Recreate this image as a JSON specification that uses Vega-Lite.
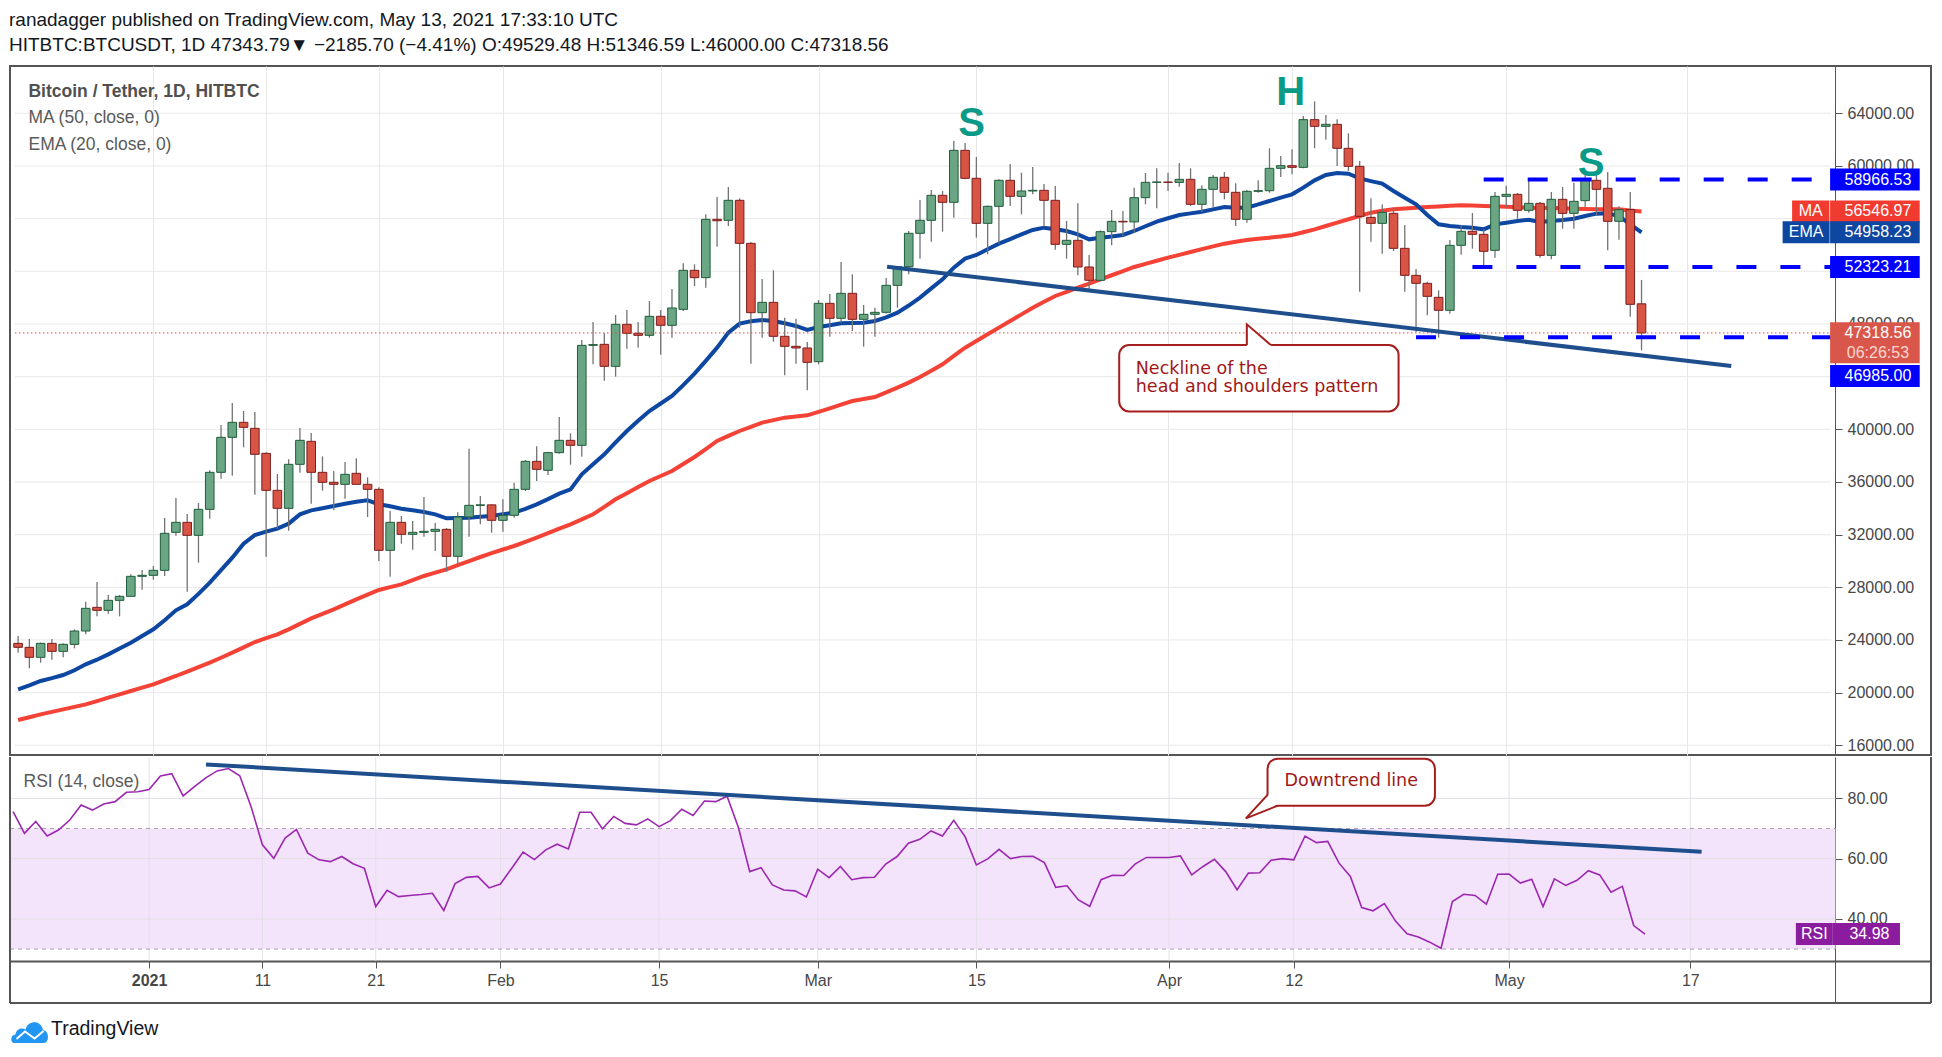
{
  "$schema": "https://vega.github.io/schema/vega-lite/v6.json",
  "background": "#ffffff",
  "padding": {"left": 9, "right": 10, "top": 10, "bottom": 6},
  "spacing": 0,
  "title": {
    "text": "ranadagger published on TradingView.com, May 13, 2021 17:33:10 UTC",
    "subtitle": "HITBTC:BTCUSDT, 1D  47343.79▼ −2185.70 (−4.41%)  O:49529.48 H:51346.59 L:46000.00 C:47318.56",
    "anchor": "start", "offset": 10,
    "font": "Liberation Sans", "fontSize": 19, "fontWeight": "normal", "color": "#131722",
    "subtitleFont": "Liberation Sans", "subtitleFontSize": 19, "subtitleColor": "#131722", "subtitlePadding": 6.5
  },
  "config": {"view": {"stroke": "#555555", "strokeWidth": 2}, "font": "Liberation Sans"},
  "datasets": {
    "ohlc": [
      {"t":"2020-12-20","o":23743,"h":24300,"l":23035,"c":23440,"ma":17921,"ema":20250,"rsi":75.6},
      {"t":"2020-12-21","o":23440,"h":24073,"l":21845,"c":22680,"ma":18130,"ema":20550,"rsi":68.4},
      {"t":"2020-12-22","o":22680,"h":23800,"l":22275,"c":23743,"ma":18351,"ema":20883,"rsi":72.3},
      {"t":"2020-12-23","o":23743,"h":24073,"l":22503,"c":23136,"ma":18540,"ema":21100,"rsi":67.5},
      {"t":"2020-12-24","o":23136,"h":23743,"l":22680,"c":23668,"ma":18731,"ema":21339,"rsi":69.5},
      {"t":"2020-12-25","o":23668,"h":24807,"l":23364,"c":24680,"ma":18920,"ema":21700,"rsi":72.8},
      {"t":"2020-12-26","o":24680,"h":26908,"l":24427,"c":26402,"ma":19110,"ema":22148,"rsi":77.8},
      {"t":"2020-12-27","o":26478,"h":28402,"l":25794,"c":26250,"ma":19360,"ema":22500,"rsi":76.1},
      {"t":"2020-12-28","o":26250,"h":27415,"l":25997,"c":27009,"ma":19617,"ema":22908,"rsi":78.1},
      {"t":"2020-12-29","o":27009,"h":27415,"l":25794,"c":27313,"ma":19870,"ema":23350,"rsi":78.9},
      {"t":"2020-12-30","o":27313,"h":28984,"l":27300,"c":28832,"ma":20123,"ema":23794,"rsi":82.0},
      {"t":"2020-12-31","o":28832,"h":29313,"l":27820,"c":28908,"ma":20380,"ema":24300,"rsi":82.2},
      {"t":"2021-01-01","o":28908,"h":29617,"l":28579,"c":29288,"ma":20630,"ema":24807,"rsi":82.9},
      {"t":"2021-01-02","o":29288,"h":33263,"l":28858,"c":32098,"ma":20950,"ema":25500,"rsi":87.4},
      {"t":"2021-01-03","o":32174,"h":34782,"l":31921,"c":32934,"ma":21263,"ema":26250,"rsi":88.2},
      {"t":"2021-01-04","o":32934,"h":33567,"l":27668,"c":31946,"ma":21600,"ema":26706,"rsi":80.8},
      {"t":"2021-01-05","o":31946,"h":34402,"l":29870,"c":33921,"ma":21940,"ema":27500,"rsi":83.9},
      {"t":"2021-01-06","o":33921,"h":36883,"l":33212,"c":36731,"ma":22275,"ema":28351,"rsi":86.8},
      {"t":"2021-01-07","o":36731,"h":40326,"l":36250,"c":39389,"ma":22650,"ema":29300,"rsi":89.1},
      {"t":"2021-01-08","o":39389,"h":41997,"l":36478,"c":40529,"ma":23035,"ema":30250,"rsi":89.9},
      {"t":"2021-01-09","o":40529,"h":41389,"l":38630,"c":40149,"ma":23440,"ema":31313,"rsi":87.5},
      {"t":"2021-01-10","o":40073,"h":41313,"l":35035,"c":38098,"ma":23845,"ema":31971,"rsi":77.2},
      {"t":"2021-01-11","o":38174,"h":38250,"l":30326,"c":35364,"ma":24140,"ema":32225,"rsi":64.6},
      {"t":"2021-01-12","o":35364,"h":36605,"l":32453,"c":33997,"ma":24427,"ema":32453,"rsi":60.1},
      {"t":"2021-01-13","o":33997,"h":37718,"l":32301,"c":37339,"ma":24807,"ema":32833,"rsi":66.8},
      {"t":"2021-01-14","o":37339,"h":40098,"l":36706,"c":39162,"ma":25220,"ema":33541,"rsi":69.7},
      {"t":"2021-01-15","o":39086,"h":39719,"l":34351,"c":36731,"ma":25642,"ema":33845,"rsi":61.8},
      {"t":"2021-01-16","o":36731,"h":37946,"l":35339,"c":35972,"ma":25980,"ema":34000,"rsi":59.6},
      {"t":"2021-01-17","o":35972,"h":36833,"l":33845,"c":35820,"ma":26326,"ema":34174,"rsi":59.0},
      {"t":"2021-01-18","o":35820,"h":37516,"l":34731,"c":36579,"ma":26700,"ema":34350,"rsi":60.7},
      {"t":"2021-01-19","o":36655,"h":37794,"l":35800,"c":35820,"ma":27085,"ema":34503,"rsi":58.3},
      {"t":"2021-01-20","o":35820,"h":36351,"l":33339,"c":35440,"ma":27440,"ema":34605,"rsi":56.8},
      {"t":"2021-01-21","o":35440,"h":35592,"l":29997,"c":30807,"ma":27794,"ema":34301,"rsi":44.1},
      {"t":"2021-01-22","o":30807,"h":33795,"l":28807,"c":32934,"ma":28010,"ema":34150,"rsi":49.5},
      {"t":"2021-01-23","o":32934,"h":33415,"l":31313,"c":32022,"ma":28225,"ema":33971,"rsi":47.4},
      {"t":"2021-01-24","o":32022,"h":33035,"l":30858,"c":32174,"ma":28540,"ema":33850,"rsi":47.8},
      {"t":"2021-01-25","o":32174,"h":34858,"l":31845,"c":32250,"ma":28858,"ema":33718,"rsi":48.1},
      {"t":"2021-01-26","o":32250,"h":32883,"l":30756,"c":32402,"ma":29110,"ema":33541,"rsi":48.5},
      {"t":"2021-01-27","o":32402,"h":32503,"l":29187,"c":30351,"ma":29364,"ema":33237,"rsi":42.8},
      {"t":"2021-01-28","o":30351,"h":33693,"l":29744,"c":33339,"ma":29680,"ema":33260,"rsi":51.7},
      {"t":"2021-01-29","o":33339,"h":38529,"l":31846,"c":34225,"ma":29997,"ema":33288,"rsi":53.8},
      {"t":"2021-01-30","o":34225,"h":34934,"l":32782,"c":34260,"ma":30301,"ema":33350,"rsi":54.1},
      {"t":"2021-01-31","o":34260,"h":34300,"l":32149,"c":33086,"ma":30600,"ema":33415,"rsi":50.3},
      {"t":"2021-02-01","o":33086,"h":34681,"l":32225,"c":33466,"ma":30870,"ema":33540,"rsi":51.6},
      {"t":"2021-02-02","o":33466,"h":35947,"l":33289,"c":35440,"ma":31137,"ema":33669,"rsi":56.8},
      {"t":"2021-02-03","o":35440,"h":37668,"l":35314,"c":37567,"ma":31450,"ema":33950,"rsi":62.2},
      {"t":"2021-02-04","o":37567,"h":38706,"l":36073,"c":36959,"ma":31770,"ema":34301,"rsi":59.7},
      {"t":"2021-02-05","o":36883,"h":38300,"l":36529,"c":38225,"ma":32110,"ema":34700,"rsi":62.9},
      {"t":"2021-02-06","o":38225,"h":40934,"l":38150,"c":39162,"ma":32450,"ema":35112,"rsi":64.8},
      {"t":"2021-02-07","o":39162,"h":39694,"l":37314,"c":38782,"ma":32782,"ema":35440,"rsi":63.2},
      {"t":"2021-02-08","o":38782,"h":46782,"l":37921,"c":46377,"ma":33160,"ema":36580,"rsi":75.4},
      {"t":"2021-02-09","o":46377,"h":48149,"l":44934,"c":46430,"ma":33542,"ema":37350,"rsi":75.4},
      {"t":"2021-02-10","o":46453,"h":47289,"l":43694,"c":44782,"ma":34110,"ema":38099,"rsi":69.9},
      {"t":"2021-02-11","o":44782,"h":48681,"l":43998,"c":47972,"ma":34681,"ema":39000,"rsi":74.0},
      {"t":"2021-02-12","o":47972,"h":49061,"l":46124,"c":47289,"ma":35150,"ema":39871,"rsi":71.7},
      {"t":"2021-02-13","o":47289,"h":48149,"l":46200,"c":47137,"ma":35610,"ema":40650,"rsi":71.2},
      {"t":"2021-02-14","o":47137,"h":49744,"l":46960,"c":48580,"ma":36073,"ema":41390,"rsi":73.2},
      {"t":"2021-02-15","o":48580,"h":49061,"l":45668,"c":47896,"ma":36450,"ema":41960,"rsi":70.6},
      {"t":"2021-02-16","o":47896,"h":50656,"l":46960,"c":49213,"ma":36833,"ema":42529,"rsi":72.6},
      {"t":"2021-02-17","o":49112,"h":52605,"l":48985,"c":52074,"ma":37360,"ema":43350,"rsi":76.4},
      {"t":"2021-02-18","o":52074,"h":52529,"l":50884,"c":51517,"ma":37896,"ema":44225,"rsi":74.3},
      {"t":"2021-02-19","o":51517,"h":56326,"l":50757,"c":55947,"ma":38500,"ema":45200,"rsi":79.1},
      {"t":"2021-02-20","o":55947,"h":57643,"l":53871,"c":55840,"ma":39112,"ema":46200,"rsi":78.9},
      {"t":"2021-02-21","o":55871,"h":58403,"l":55441,"c":57390,"ma":39500,"ema":47339,"rsi":80.7},
      {"t":"2021-02-22","o":57390,"h":57542,"l":47719,"c":54124,"ma":39871,"ema":48023,"rsi":70.3},
      {"t":"2021-02-23","o":54124,"h":54225,"l":44985,"c":48858,"ma":40190,"ema":48200,"rsi":55.7},
      {"t":"2021-02-24","o":48858,"h":51415,"l":46960,"c":49643,"ma":40504,"ema":48301,"rsi":57.0},
      {"t":"2021-02-25","o":49643,"h":52074,"l":46656,"c":47061,"ma":40700,"ema":48225,"rsi":51.3},
      {"t":"2021-02-26","o":47061,"h":48479,"l":44099,"c":46301,"ma":40884,"ema":48050,"rsi":49.6},
      {"t":"2021-02-27","o":46301,"h":48403,"l":44985,"c":46175,"ma":40970,"ema":47846,"rsi":49.3},
      {"t":"2021-02-28","o":46175,"h":46631,"l":42959,"c":45086,"ma":41061,"ema":47542,"rsi":47.3},
      {"t":"2021-03-01","o":45137,"h":49821,"l":44934,"c":49567,"ma":41320,"ema":47770,"rsi":56.5},
      {"t":"2021-03-02","o":49567,"h":50276,"l":47036,"c":48428,"ma":41593,"ema":47900,"rsi":53.7},
      {"t":"2021-03-03","o":48428,"h":52706,"l":48099,"c":50327,"ma":41870,"ema":48049,"rsi":57.4},
      {"t":"2021-03-04","o":50327,"h":51770,"l":47466,"c":48352,"ma":42150,"ema":48080,"rsi":53.0},
      {"t":"2021-03-05","o":48352,"h":49441,"l":46276,"c":48732,"ma":42300,"ema":48099,"rsi":53.7},
      {"t":"2021-03-06","o":48732,"h":49239,"l":47036,"c":48884,"ma":42453,"ema":48225,"rsi":53.8},
      {"t":"2021-03-07","o":48884,"h":51491,"l":48800,"c":50934,"ma":42800,"ema":48500,"rsi":58.2},
      {"t":"2021-03-08","o":50934,"h":52400,"l":49238,"c":52352,"ma":43162,"ema":48858,"rsi":60.7},
      {"t":"2021-03-09","o":52352,"h":55061,"l":51770,"c":54884,"ma":43542,"ema":49400,"rsi":65.1},
      {"t":"2021-03-10","o":54884,"h":57415,"l":52960,"c":55871,"ma":43972,"ema":49998,"rsi":66.4},
      {"t":"2021-03-11","o":55871,"h":58175,"l":54251,"c":57770,"ma":44450,"ema":50700,"rsi":69.2},
      {"t":"2021-03-12","o":57770,"h":58099,"l":55010,"c":57238,"ma":44934,"ema":51390,"rsi":67.5},
      {"t":"2021-03-13","o":57238,"h":61896,"l":56073,"c":61188,"ma":45570,"ema":52276,"rsi":72.7},
      {"t":"2021-03-14","o":61188,"h":61745,"l":58985,"c":59061,"ma":46200,"ema":52960,"rsi":67.3},
      {"t":"2021-03-15","o":59061,"h":60681,"l":54554,"c":55643,"ma":46700,"ema":53238,"rsi":57.9},
      {"t":"2021-03-16","o":55643,"h":57000,"l":53289,"c":56934,"ma":47213,"ema":53669,"rsi":59.9},
      {"t":"2021-03-17","o":56934,"h":58985,"l":54099,"c":58909,"ma":47720,"ema":54099,"rsi":63.1},
      {"t":"2021-03-18","o":58909,"h":60150,"l":56960,"c":57694,"ma":48225,"ema":54450,"rsi":60.0},
      {"t":"2021-03-19","o":57694,"h":59491,"l":56327,"c":58099,"ma":48730,"ema":54808,"rsi":60.7},
      {"t":"2021-03-20","o":58099,"h":59922,"l":57846,"c":58150,"ma":49238,"ema":55137,"rsi":60.8},
      {"t":"2021-03-21","o":58150,"h":58631,"l":55365,"c":57390,"ma":49680,"ema":55314,"rsi":58.7},
      {"t":"2021-03-22","o":57390,"h":58479,"l":53643,"c":54048,"ma":50124,"ema":55188,"rsi":50.5},
      {"t":"2021-03-23","o":54048,"h":55820,"l":52960,"c":54352,"ma":50440,"ema":55061,"rsi":51.0},
      {"t":"2021-03-24","o":54352,"h":57162,"l":51694,"c":52327,"ma":50757,"ema":54808,"rsi":46.3},
      {"t":"2021-03-25","o":52327,"h":53238,"l":50504,"c":51314,"ma":51070,"ema":54428,"rsi":44.2},
      {"t":"2021-03-26","o":51314,"h":55100,"l":51250,"c":55010,"ma":51390,"ema":54554,"rsi":53.0},
      {"t":"2021-03-27","o":55010,"h":56656,"l":53972,"c":55795,"ma":51700,"ema":54650,"rsi":54.5},
      {"t":"2021-03-28","o":55795,"h":56580,"l":54681,"c":55750,"ma":52010,"ema":54757,"rsi":54.4},
      {"t":"2021-03-29","o":55750,"h":58352,"l":54935,"c":57592,"ma":52327,"ema":55061,"rsi":58.2},
      {"t":"2021-03-30","o":57592,"h":59466,"l":57086,"c":58757,"ma":52560,"ema":55420,"rsi":60.4},
      {"t":"2021-03-31","o":58757,"h":59821,"l":56782,"c":58780,"ma":52800,"ema":55770,"rsi":60.4},
      {"t":"2021-04-01","o":58780,"h":59491,"l":58099,"c":58750,"ma":53035,"ema":56030,"rsi":60.4},
      {"t":"2021-04-02","o":58750,"h":60226,"l":58428,"c":58985,"ma":53250,"ema":56276,"rsi":60.9},
      {"t":"2021-04-03","o":58985,"h":59821,"l":56960,"c":57086,"ma":53466,"ema":56400,"rsi":54.6},
      {"t":"2021-04-04","o":57086,"h":58529,"l":56504,"c":58226,"ma":53680,"ema":56529,"rsi":57.4},
      {"t":"2021-04-05","o":58226,"h":59314,"l":56782,"c":59137,"ma":53890,"ema":56700,"rsi":59.8},
      {"t":"2021-04-06","o":59137,"h":59542,"l":57466,"c":57998,"ma":54099,"ema":56884,"rsi":55.7},
      {"t":"2021-04-07","o":57998,"h":58681,"l":55441,"c":55947,"ma":54240,"ema":56833,"rsi":49.7},
      {"t":"2021-04-08","o":55947,"h":58175,"l":55694,"c":58074,"ma":54377,"ema":56833,"rsi":55.2},
      {"t":"2021-04-09","o":58074,"h":58909,"l":57972,"c":58120,"ma":54470,"ema":57086,"rsi":55.3},
      {"t":"2021-04-10","o":58120,"h":61339,"l":57972,"c":59821,"ma":54554,"ema":57340,"rsi":59.5},
      {"t":"2021-04-11","o":59821,"h":60757,"l":59162,"c":60023,"ma":54650,"ema":57590,"rsi":60.0},
      {"t":"2021-04-12","o":60023,"h":61264,"l":59365,"c":59896,"ma":54757,"ema":57846,"rsi":59.6},
      {"t":"2021-04-13","o":59896,"h":63795,"l":59821,"c":63517,"ma":54970,"ema":58352,"rsi":67.5},
      {"t":"2021-04-14","o":63517,"h":64909,"l":61339,"c":63010,"ma":55188,"ema":58909,"rsi":65.3},
      {"t":"2021-04-15","o":63010,"h":63871,"l":61998,"c":63162,"ma":55440,"ema":59314,"rsi":65.7},
      {"t":"2021-04-16","o":63162,"h":63542,"l":59998,"c":61339,"ma":55694,"ema":59466,"rsi":58.5},
      {"t":"2021-04-17","o":61339,"h":62479,"l":59618,"c":59972,"ma":55950,"ema":59415,"rsi":54.1},
      {"t":"2021-04-18","o":59972,"h":60378,"l":50453,"c":56175,"ma":56200,"ema":59061,"rsi":43.8},
      {"t":"2021-04-19","o":56099,"h":57542,"l":54251,"c":55643,"ma":56450,"ema":58850,"rsi":42.7},
      {"t":"2021-04-20","o":55643,"h":57086,"l":53339,"c":56478,"ma":56600,"ema":58655,"rsi":45.1},
      {"t":"2021-04-21","o":56402,"h":56833,"l":53542,"c":53744,"ma":56706,"ema":58099,"rsi":39.2},
      {"t":"2021-04-22","o":53744,"h":55516,"l":50453,"c":51693,"ma":56770,"ema":57592,"rsi":35.1},
      {"t":"2021-04-23","o":51693,"h":52174,"l":47390,"c":51086,"ma":56830,"ema":57086,"rsi":34.0},
      {"t":"2021-04-24","o":51086,"h":51212,"l":48655,"c":50098,"ma":56883,"ema":56276,"rsi":32.3},
      {"t":"2021-04-25","o":50022,"h":50554,"l":46959,"c":49035,"ma":56930,"ema":55567,"rsi":30.3},
      {"t":"2021-04-26","o":49035,"h":54377,"l":48782,"c":53972,"ma":56970,"ema":55440,"rsi":45.8},
      {"t":"2021-04-27","o":53972,"h":55516,"l":53263,"c":55035,"ma":57010,"ema":55364,"rsi":48.2},
      {"t":"2021-04-28","o":55035,"h":56428,"l":53719,"c":54807,"ma":56990,"ema":55313,"rsi":47.8},
      {"t":"2021-04-29","o":54807,"h":55187,"l":52276,"c":53516,"ma":56960,"ema":55187,"rsi":44.9},
      {"t":"2021-04-30","o":53592,"h":58022,"l":53035,"c":57693,"ma":56934,"ema":55567,"rsi":54.8},
      {"t":"2021-05-01","o":57693,"h":58504,"l":56883,"c":57845,"ma":56900,"ema":55693,"rsi":54.9},
      {"t":"2021-05-02","o":57845,"h":57946,"l":55997,"c":56630,"ma":56866,"ema":55820,"rsi":51.9},
      {"t":"2021-05-03","o":56630,"h":59010,"l":56453,"c":57162,"ma":56833,"ema":55921,"rsi":53.2},
      {"t":"2021-05-04","o":57162,"h":57263,"l":53035,"c":53212,"ma":56815,"ema":55744,"rsi":44.1},
      {"t":"2021-05-05","o":53212,"h":58022,"l":52909,"c":57466,"ma":56800,"ema":55820,"rsi":53.3},
      {"t":"2021-05-06","o":57466,"h":58402,"l":55237,"c":56402,"ma":56782,"ema":55896,"rsi":51.1},
      {"t":"2021-05-07","o":56402,"h":58732,"l":55237,"c":57314,"ma":56755,"ema":55997,"rsi":52.8},
      {"t":"2021-05-08","o":57364,"h":59542,"l":56883,"c":58909,"ma":56730,"ema":56200,"rsi":56.0},
      {"t":"2021-05-09","o":58909,"h":59542,"l":56276,"c":58225,"ma":56706,"ema":56377,"rsi":54.6},
      {"t":"2021-05-10","o":58301,"h":59542,"l":53592,"c":55794,"ma":56706,"ema":56402,"rsi":48.9},
      {"t":"2021-05-11","o":55794,"h":56934,"l":54402,"c":56681,"ma":56706,"ema":56200,"rsi":50.8},
      {"t":"2021-05-12","o":56681,"h":58022,"l":48554,"c":49491,"ma":56620,"ema":55567,"rsi":37.8},
      {"t":"2021-05-13","o":49529.48,"h":51346.59,"l":46000,"c":47318.56,"ma":56546.97,"ema":54958.23,"rsi":34.98}
    ],
    "pgrid": [{"v":16000},{"v":20000},{"v":24000},{"v":28000},{"v":32000},{"v":36000},{"v":40000},{"v":44000},{"v":48000},{"v":52000},{"v":56000},{"v":60000},{"v":64000}],
    "rgrid": [{"v":40},{"v":60},{"v":80}],
    "rband": [{"lo":30,"hi":70}],
    "rdash": [{"v":30},{"v":70}],
    "xgrid": [{"t":"2021-01-01"},{"t":"2021-01-11"},{"t":"2021-01-21"},{"t":"2021-02-01"},{"t":"2021-02-15"},{"t":"2021-03-01"},{"t":"2021-03-15"},{"t":"2021-04-01"},{"t":"2021-04-12"},{"t":"2021-05-01"},{"t":"2021-05-17"}],
    "levels": [{"p":58966.53,"from":"2021-04-29"},{"p":52323.21,"from":"2021-04-28"},{"p":46985,"from":"2021-04-23"}],
    "last": [{"c":47318.56}],
    "neck": [{"t1":"2021-03-07T02:00:00Z","v1":52349,"t2":"2021-05-20T23:00:00Z","v2":44807}],
    "rtrend": [{"t1":"2021-01-06T00:30:00Z","v1":91.26,"t2":"2021-05-17T23:45:00Z","v2":62.25}],
    "letters": [{"t":"2021-03-14T13:55:00Z","p":63165,"txt":"S"},{"t":"2021-04-11T20:53:00Z","p":65542,"txt":"H"},{"t":"2021-05-08T12:30:00Z","p":60127,"txt":"S"}],
    "legend": [{"txt":"Bitcoin / Tether, 1D, HITBTC","p":65618,"main":true},{"txt":"MA (50, close, 0)","p":63620,"main":false},{"txt":"EMA (20, close, 0)","p":61592,"main":false}],
    "note1box": [{"t1":"2021-03-27T16:05:00Z","t2":"2021-04-21T10:48:00Z","v1":46402,"v2":41352}],
    "note1ptr": [{"t":"2021-04-07T23:45:00Z","v":46402}],
    "note1txt": [{"t":"2021-03-29T03:22:00Z","v":44602,"txt":"Neckline of the"},{"t":"2021-03-29T03:22:00Z","v":43212,"txt":"head and shoulders pattern"}],
    "note2box": [{"t1":"2021-04-09T16:34:00Z","t2":"2021-04-24T11:02:00Z","v1":93.15,"v2":77.58}],
    "note2ptr": [{"t":"2021-04-09T16:34:00Z","v":77.58}],
    "note2txt": [{"t":"2021-04-17T01:55:00Z","v":85.7,"txt":"Downtrend line"}],
    "tags": [
      {"kind":"level","label":"58966.53","at":58966.53},
      {"kind":"ma","label":"56546.97","at":56546.97},
      {"kind":"ema","label":"54958.23","at":54958.23},
      {"kind":"level","label":"52323.21","at":52323.21},
      {"kind":"price","label":"47318.56","at":47318.56,"sub":"06:26:53"},
      {"kind":"low","label":"46985.00","at":46985}
    ],
    "rsitag": [{"label":"34.98","at":34.98}],
    "rsilabel": [{"t":"2020-12-20T22:05:00Z","v":85.3,"txt":"RSI (14, close)"}],
    "brand": [{"t":"2020-12-21T11:47:00Z","v":2.67}],
    "rframe": [{"side":"left"}]
  },
  "vconcat": [
    {
      "width": 1921,
      "height": 689,
      "layer": [
        {
          "data": {"name": "pgrid"},
          "mark": {"type": "rule", "color": "#e8e8e8", "strokeWidth": 1},
          "encoding": {
            "x": {"datum": {"year":2020,"month":12,"date":19,"hours":17,"minutes":25,"utc":true}, "type": "temporal", "title": null},
            "x2": {"datum": {"year":2021,"month":5,"date":29,"hours":19,"minutes":12,"utc":true}},
            "y": {"field": "v", "type": "quantitative", "title": null}
          }
        },
        {
          "data": {"name": "ohlc"},
          "mark": {"type": "line", "color": "#f44336", "strokeWidth": 4},
          "encoding": {
            "x": {"field": "t", "type": "temporal", "title": null,
              "scale": {"type": "utc", "domain": [{"year":2020,"month":12,"date":19,"hours":17,"minutes":25,"utc":true},{"year":2021,"month":6,"date":7,"hours":5,"minutes":36,"utc":true}]},
              "axis": {"values": [{"year":2021,"month":1,"date":1,"utc":true},{"year":2021,"month":1,"date":11,"utc":true},{"year":2021,"month":1,"date":21,"utc":true},{"year":2021,"month":2,"date":1,"utc":true},{"year":2021,"month":2,"date":15,"utc":true},{"year":2021,"month":3,"date":1,"utc":true},{"year":2021,"month":3,"date":15,"utc":true},{"year":2021,"month":4,"date":1,"utc":true},{"year":2021,"month":4,"date":12,"utc":true},{"year":2021,"month":5,"date":1,"utc":true},{"year":2021,"month":5,"date":17,"utc":true}],
                "grid": true, "gridColor": "#e8e8e8", "labels": false, "ticks": false, "domain": false}},
            "y": {"field": "ma", "type": "quantitative", "title": null,
              "scale": {"domain": [15263, 67592], "nice": false, "zero": false},
              "axis": {"orient": "right", "offset": -96, "values": [16000,20000,24000,28000,32000,36000,40000,44000,48000,52000,56000,60000,64000],
                "format": ".2f", "grid": false, "tickSize": 7, "tickColor": "#555555", "domainColor": "#555555", "domainWidth": 1,
                "labelPadding": 5, "labelFontSize": 16, "labelColor": "#474747", "labelFont": "Liberation Sans"}}
          }
        },
        {
          "data": {"name": "ohlc"},
          "mark": {"type": "line", "color": "#0d47a1", "strokeWidth": 4},
          "encoding": {
            "x": {"field": "t", "type": "temporal", "title": null},
            "y": {"field": "ema", "type": "quantitative", "title": null}
          }
        },
        {
          "data": {"name": "ohlc"},
          "mark": {"type": "rule", "color": "#737373", "strokeWidth": 1.3},
          "encoding": {
            "x": {"field": "t", "type": "temporal", "title": null},
            "y": {"field": "l", "type": "quantitative", "title": null},
            "y2": {"field": "h"}
          }
        },
        {
          "data": {"name": "ohlc"},
          "mark": {"type": "bar", "width": 8.6, "strokeWidth": 1},
          "encoding": {
            "x": {"field": "t", "type": "temporal", "title": null},
            "y": {"field": "o", "type": "quantitative", "title": null},
            "y2": {"field": "c"},
            "fill": {"condition": {"test": "datum.c >= datum.o", "value": "#6ba684"}, "value": "#d85445"},
            "stroke": {"condition": {"test": "datum.c >= datum.o", "value": "#1f5d3a"}, "value": "#7c1e1e"}
          }
        },
        {
          "data": {"name": "last"},
          "mark": {"type": "rule", "color": "#e8473a", "strokeWidth": 1, "strokeDash": [1.5, 2.5]},
          "encoding": {
            "x": {"datum": {"year":2020,"month":12,"date":19,"hours":17,"minutes":25,"utc":true}, "type": "temporal", "title": null},
            "x2": {"datum": {"year":2021,"month":5,"date":29,"hours":19,"minutes":12,"utc":true}},
            "y": {"field": "c", "type": "quantitative", "title": null}
          }
        },
        {
          "data": {"name": "neck"},
          "mark": {"type": "rule", "color": "#1f4e8c", "strokeWidth": 4},
          "encoding": {
            "x": {"field": "t1", "type": "temporal", "title": null},
            "x2": {"field": "t2"},
            "y": {"field": "v1", "type": "quantitative", "title": null},
            "y2": {"field": "v2"}
          }
        },
        {
          "data": {"name": "levels"},
          "mark": {"type": "rule", "color": "#0000ff", "strokeWidth": 4, "strokeDash": [20, 24]},
          "encoding": {
            "x": {"field": "from", "type": "temporal", "title": null},
            "x2": {"datum": {"year":2021,"month":5,"date":29,"hours":19,"minutes":12,"utc":true}},
            "y": {"field": "p", "type": "quantitative", "title": null}
          }
        },
        {
          "data": {"name": "letters"},
          "mark": {"type": "text", "font": "Liberation Sans Narrow, Liberation Sans", "fontSize": 40, "fontWeight": "bold", "color": "#0a9a87", "align": "center", "baseline": "middle"},
          "encoding": {
            "x": {"field": "t", "type": "temporal", "title": null},
            "y": {"field": "p", "type": "quantitative", "title": null},
            "text": {"field": "txt"}
          }
        },
        {
          "data": {"name": "legend"},
          "transform": [{"filter": "datum.main"}],
          "mark": {"type": "text", "font": "Liberation Sans", "fontSize": 17.5, "fontWeight": "bold", "color": "#505050", "align": "left", "baseline": "middle"},
          "encoding": {
            "x": {"datum": {"year":2020,"month":12,"date":20,"hours":22,"minutes":5,"utc":true}, "type": "temporal", "title": null},
            "y": {"field": "p", "type": "quantitative", "title": null},
            "text": {"field": "txt"}
          }
        },
        {
          "data": {"name": "legend"},
          "transform": [{"filter": "!datum.main"}],
          "mark": {"type": "text", "font": "Liberation Sans", "fontSize": 17.5, "color": "#5a5a5a", "align": "left", "baseline": "middle"},
          "encoding": {
            "x": {"datum": {"year":2020,"month":12,"date":20,"hours":22,"minutes":5,"utc":true}, "type": "temporal", "title": null},
            "y": {"field": "p", "type": "quantitative", "title": null},
            "text": {"field": "txt"}
          }
        },
        {
          "data": {"name": "note1box"},
          "mark": {"type": "rect", "fill": "#ffffff", "stroke": "#a51d1d", "strokeWidth": 2, "cornerRadius": 10},
          "encoding": {
            "x": {"field": "t1", "type": "temporal", "title": null},
            "x2": {"field": "t2"},
            "y": {"field": "v1", "type": "quantitative", "title": null},
            "y2": {"field": "v2"}
          }
        },
        {
          "data": {"name": "note1ptr"},
          "mark": {"type": "point", "shape": "M0,0.15V-1.88L2.31,0.15Z", "size": 484, "filled": true, "fill": "#ffffff", "strokeWidth": 0, "opacity": 1},
          "encoding": {
            "x": {"field": "t", "type": "temporal", "title": null},
            "y": {"field": "v", "type": "quantitative", "title": null}
          }
        },
        {
          "data": {"name": "note1ptr"},
          "mark": {"type": "point", "shape": "M0,0V-1.88L2.18,0", "size": 484, "filled": false, "stroke": "#a51d1d", "strokeWidth": 2, "opacity": 1},
          "encoding": {
            "x": {"field": "t", "type": "temporal", "title": null},
            "y": {"field": "v", "type": "quantitative", "title": null}
          }
        },
        {
          "data": {"name": "note1txt"},
          "mark": {"type": "text", "font": "DejaVu Sans", "fontSize": 17.5, "color": "#a01818", "align": "left", "baseline": "middle"},
          "encoding": {
            "x": {"field": "t", "type": "temporal", "title": null},
            "y": {"field": "v", "type": "quantitative", "title": null},
            "text": {"field": "txt"}
          }
        },
        {
          "data": {"name": "tags"},
          "transform": [{"filter": "datum.kind == 'level'"}],
          "mark": {"type": "point", "shape": "M-4.073,-1H4.073V1H-4.073Z", "size": 484, "filled": true, "fill": "#0000ff", "strokeWidth": 0, "opacity": 1},
          "encoding": {
            "x": {"datum": {"year":2021,"month":6,"date":2,"hours":16,"minutes":50,"utc":true}, "type": "temporal", "title": null},
            "y": {"field": "at", "type": "quantitative", "title": null}
          }
        },
        {
          "data": {"name": "tags"},
          "transform": [{"filter": "datum.kind == 'low'"}],
          "mark": {"type": "point", "shape": "M-4.073,2.518H4.073V4.518H-4.073Z", "size": 484, "filled": true, "fill": "#0000ff", "strokeWidth": 0, "opacity": 1},
          "encoding": {
            "x": {"datum": {"year":2021,"month":6,"date":2,"hours":16,"minutes":50,"utc":true}, "type": "temporal", "title": null},
            "y": {"field": "at", "type": "quantitative", "title": null}
          }
        },
        {
          "data": {"name": "tags"},
          "transform": [{"filter": "datum.kind == 'ma'"}],
          "mark": {"type": "point", "shape": "M-4.073,-1H4.073V1H-4.073Z", "size": 484, "filled": true, "fill": "#f23b30", "strokeWidth": 0, "opacity": 1},
          "encoding": {
            "x": {"datum": {"year":2021,"month":6,"date":2,"hours":16,"minutes":50,"utc":true}, "type": "temporal", "title": null},
            "y": {"field": "at", "type": "quantitative", "title": null}
          }
        },
        {
          "data": {"name": "tags"},
          "transform": [{"filter": "datum.kind == 'ma'"}],
          "mark": {"type": "point", "shape": "M-1.695,-1H1.695V1H-1.695Z", "size": 484, "filled": true, "fill": "#f23b30", "strokeWidth": 0, "opacity": 1},
          "encoding": {
            "x": {"datum": {"year":2021,"month":5,"date":28,"hours":0,"minutes":14,"utc":true}, "type": "temporal", "title": null},
            "y": {"field": "at", "type": "quantitative", "title": null}
          }
        },
        {
          "data": {"name": "tags"},
          "transform": [{"filter": "datum.kind == 'ema'"}],
          "mark": {"type": "point", "shape": "M-4.073,-1H4.073V1H-4.073Z", "size": 484, "filled": true, "fill": "#0d47a1", "strokeWidth": 0, "opacity": 1},
          "encoding": {
            "x": {"datum": {"year":2021,"month":6,"date":2,"hours":16,"minutes":50,"utc":true}, "type": "temporal", "title": null},
            "y": {"field": "at", "type": "quantitative", "title": null}
          }
        },
        {
          "data": {"name": "tags"},
          "transform": [{"filter": "datum.kind == 'ema'"}],
          "mark": {"type": "point", "shape": "M-2.136,-1H2.136V1H-2.136Z", "size": 484, "filled": true, "fill": "#0d47a1", "strokeWidth": 0, "opacity": 1},
          "encoding": {
            "x": {"datum": {"year":2021,"month":5,"date":27,"hours":14,"minutes":24,"utc":true}, "type": "temporal", "title": null},
            "y": {"field": "at", "type": "quantitative", "title": null}
          }
        },
        {
          "data": {"name": "tags"},
          "transform": [{"filter": "datum.kind == 'price'"}],
          "mark": {"type": "point", "shape": "M-4.073,-0.964H4.073V2.764H-4.073Z", "size": 484, "filled": true, "fill": "#d9574a", "strokeWidth": 0, "opacity": 1},
          "encoding": {
            "x": {"datum": {"year":2021,"month":6,"date":2,"hours":16,"minutes":50,"utc":true}, "type": "temporal", "title": null},
            "y": {"field": "at", "type": "quantitative", "title": null}
          }
        },
        {
          "data": {"name": "tags"},
          "transform": [{"filter": "datum.kind != 'low'"}],
          "mark": {"type": "text", "font": "Liberation Sans", "fontSize": 16, "color": "#ffffff", "align": "center", "baseline": "middle", "dx": 3},
          "encoding": {
            "x": {"datum": {"year":2021,"month":6,"date":2,"hours":16,"minutes":50,"utc":true}, "type": "temporal", "title": null},
            "y": {"field": "at", "type": "quantitative", "title": null},
            "text": {"field": "label"}
          }
        },
        {
          "data": {"name": "tags"},
          "transform": [{"filter": "datum.kind == 'low'"}],
          "mark": {"type": "text", "font": "Liberation Sans", "fontSize": 16, "color": "#ffffff", "align": "center", "baseline": "middle", "dx": 3, "dy": 38.7},
          "encoding": {
            "x": {"datum": {"year":2021,"month":6,"date":2,"hours":16,"minutes":50,"utc":true}, "type": "temporal", "title": null},
            "y": {"field": "at", "type": "quantitative", "title": null},
            "text": {"field": "label"}
          }
        },
        {
          "data": {"name": "tags"},
          "transform": [{"filter": "datum.kind == 'price'"}],
          "mark": {"type": "text", "font": "Liberation Sans", "fontSize": 16, "color": "#f9d6d1", "align": "center", "baseline": "middle", "dx": 3, "dy": 19.7},
          "encoding": {
            "x": {"datum": {"year":2021,"month":6,"date":2,"hours":16,"minutes":50,"utc":true}, "type": "temporal", "title": null},
            "y": {"field": "at", "type": "quantitative", "title": null},
            "text": {"field": "sub"}
          }
        },
        {
          "data": {"name": "tags"},
          "transform": [{"filter": "datum.kind == 'ma'"}],
          "mark": {"type": "text", "font": "Liberation Sans", "fontSize": 16, "color": "#ffffff", "align": "center", "baseline": "middle", "text": "MA"},
          "encoding": {
            "x": {"datum": {"year":2021,"month":5,"date":28,"hours":0,"minutes":14,"utc":true}, "type": "temporal", "title": null},
            "y": {"field": "at", "type": "quantitative", "title": null}
          }
        },
        {
          "data": {"name": "tags"},
          "transform": [{"filter": "datum.kind == 'ema'"}],
          "mark": {"type": "text", "font": "Liberation Sans", "fontSize": 16, "color": "#ffffff", "align": "center", "baseline": "middle", "text": "EMA"},
          "encoding": {
            "x": {"datum": {"year":2021,"month":5,"date":27,"hours":14,"minutes":24,"utc":true}, "type": "temporal", "title": null},
            "y": {"field": "at", "type": "quantitative", "title": null}
          }
        }
      ]
    },
    {
      "width": 1921,
      "height": 246,
      "view": {"stroke": null},
      "title": {"text": "TradingView", "orient": "bottom", "anchor": "start", "frame": "group", "offset": -23, "dx": 41,
        "font": "Liberation Sans", "fontSize": 19.5, "fontWeight": "normal", "color": "#131722"},
      "layer": [
        {
          "data": {"name": "rband"},
          "mark": {"type": "rect", "color": "#f3e4fb"},
          "encoding": {
            "x": {"datum": {"year":2020,"month":12,"date":19,"hours":17,"minutes":25,"utc":true}, "type": "temporal", "title": null},
            "x2": {"datum": {"year":2021,"month":5,"date":29,"hours":19,"minutes":12,"utc":true}},
            "y": {"field": "lo", "type": "quantitative", "title": null},
            "y2": {"field": "hi"}
          }
        },
        {
          "data": {"name": "rgrid"},
          "mark": {"type": "rule", "color": "#e2dde4", "strokeWidth": 1},
          "encoding": {
            "x": {"datum": {"year":2020,"month":12,"date":19,"hours":17,"minutes":25,"utc":true}, "type": "temporal", "title": null},
            "x2": {"datum": {"year":2021,"month":5,"date":29,"hours":19,"minutes":12,"utc":true}},
            "y": {"field": "v", "type": "quantitative", "title": null}
          }
        },
        {
          "data": {"name": "xgrid"},
          "mark": {"type": "rule", "color": "#e4e0e6", "strokeWidth": 1},
          "encoding": {
            "x": {"field": "t", "type": "temporal", "title": null},
            "y": {"datum": 93.71, "type": "quantitative", "title": null},
            "y2": {"datum": 26.16}
          }
        },
        {
          "data": {"name": "rdash"},
          "mark": {"type": "rule", "color": "#a99fb0", "strokeWidth": 1, "strokeDash": [4, 4]},
          "encoding": {
            "x": {"datum": {"year":2020,"month":12,"date":19,"hours":17,"minutes":25,"utc":true}, "type": "temporal", "title": null},
            "x2": {"datum": {"year":2021,"month":5,"date":29,"hours":19,"minutes":12,"utc":true}},
            "y": {"field": "v", "type": "quantitative", "title": null}
          }
        },
        {
          "data": {"name": "ohlc"},
          "mark": {"type": "line", "color": "#9c27b0", "strokeWidth": 1.6},
          "encoding": {
            "x": {"field": "t", "type": "temporal", "title": null,
              "scale": {"type": "utc", "domain": [{"year":2020,"month":12,"date":19,"hours":17,"minutes":25,"utc":true},{"year":2021,"month":6,"date":7,"hours":5,"minutes":36,"utc":true}]},
              "axis": {"orient": "bottom", "offset": -42, "values": [{"year":2021,"month":1,"date":1,"utc":true},{"year":2021,"month":1,"date":11,"utc":true},{"year":2021,"month":1,"date":21,"utc":true},{"year":2021,"month":2,"date":1,"utc":true},{"year":2021,"month":2,"date":15,"utc":true},{"year":2021,"month":3,"date":1,"utc":true},{"year":2021,"month":3,"date":15,"utc":true},{"year":2021,"month":4,"date":1,"utc":true},{"year":2021,"month":4,"date":12,"utc":true},{"year":2021,"month":5,"date":1,"utc":true},{"year":2021,"month":5,"date":17,"utc":true}],
                "labelExpr": "utcmonth(datum.value) == 0 && utcdate(datum.value) == 1 ? '2021' : (utcdate(datum.value) == 1 ? utcFormat(datum.value, '%b') : utcFormat(datum.value, '%d'))",
                "labelFontWeight": {"condition": {"test": "utcmonth(datum.value) == 0 && utcdate(datum.value) == 1", "value": "bold"}, "value": "normal"},
                "grid": false, "tickSize": 7, "tickColor": "#555555", "domainColor": "#555555", "domainWidth": 2,
                "labelPadding": 4, "labelFontSize": 16, "labelColor": "#474747", "labelFont": "Liberation Sans"}},
            "y": {"field": "rsi", "type": "quantitative", "title": null,
              "scale": {"domain": [12.12, 93.71], "nice": false, "zero": false},
              "axis": {"orient": "right", "offset": -96, "values": [40, 60, 80], "format": ".2f", "grid": false,
                "tickSize": 7, "tickColor": "#555555", "domainColor": "#555555", "domainWidth": 1,
                "labelPadding": 5, "labelFontSize": 16, "labelColor": "#474747", "labelFont": "Liberation Sans"}}
          }
        },
        {
          "data": {"name": "rframe"},
          "mark": {"type": "rule", "color": "#555555", "strokeWidth": 2},
          "encoding": {
            "x": {"datum": {"year":2020,"month":12,"date":19,"hours":17,"minutes":25,"utc":true}, "type": "temporal", "title": null},
            "y": {"datum": 93.71, "type": "quantitative", "title": null},
            "y2": {"datum": 12.12}
          }
        },
        {
          "data": {"name": "rframe"},
          "mark": {"type": "rule", "color": "#555555", "strokeWidth": 2},
          "encoding": {
            "x": {"datum": {"year":2021,"month":6,"date":7,"hours":5,"minutes":36,"utc":true}, "type": "temporal", "title": null},
            "y": {"datum": 93.71, "type": "quantitative", "title": null},
            "y2": {"datum": 12.12}
          }
        },
        {
          "data": {"name": "rframe"},
          "mark": {"type": "rule", "color": "#555555", "strokeWidth": 2},
          "encoding": {
            "x": {"datum": {"year":2020,"month":12,"date":19,"hours":17,"minutes":25,"utc":true}, "type": "temporal", "title": null},
            "x2": {"datum": {"year":2021,"month":6,"date":7,"hours":5,"minutes":36,"utc":true}},
            "y": {"datum": 12.12, "type": "quantitative", "title": null}
          }
        },
        {
          "data": {"name": "rtrend"},
          "mark": {"type": "rule", "color": "#1f4e8c", "strokeWidth": 4},
          "encoding": {
            "x": {"field": "t1", "type": "temporal", "title": null},
            "x2": {"field": "t2"},
            "y": {"field": "v1", "type": "quantitative", "title": null},
            "y2": {"field": "v2"}
          }
        },
        {
          "data": {"name": "note2box"},
          "mark": {"type": "rect", "fill": "#ffffff", "stroke": "#a51d1d", "strokeWidth": 2, "cornerRadius": 10},
          "encoding": {
            "x": {"field": "t1", "type": "temporal", "title": null},
            "x2": {"field": "t2"},
            "y": {"field": "v1", "type": "quantitative", "title": null},
            "y2": {"field": "v2"}
          }
        },
        {
          "data": {"name": "note2ptr"},
          "mark": {"type": "point", "shape": "M0.12,-1.0L-1.973,1.155L0.97,-0.12L0.5,-0.5Z", "size": 484, "filled": true, "fill": "#ffffff", "strokeWidth": 0, "opacity": 1},
          "encoding": {
            "x": {"field": "t", "type": "temporal", "title": null},
            "y": {"field": "v", "type": "quantitative", "title": null}
          }
        },
        {
          "data": {"name": "note2ptr"},
          "mark": {"type": "point", "shape": "M0,-0.973L-1.973,1.155L0.945,0", "size": 484, "filled": false, "stroke": "#a51d1d", "strokeWidth": 2, "opacity": 1},
          "encoding": {
            "x": {"field": "t", "type": "temporal", "title": null},
            "y": {"field": "v", "type": "quantitative", "title": null}
          }
        },
        {
          "data": {"name": "note2txt"},
          "mark": {"type": "text", "font": "DejaVu Sans", "fontSize": 17.5, "color": "#a01818", "align": "center", "baseline": "middle"},
          "encoding": {
            "x": {"field": "t", "type": "temporal", "title": null},
            "y": {"field": "v", "type": "quantitative", "title": null},
            "text": {"field": "txt"}
          }
        },
        {
          "data": {"name": "rsitag"},
          "mark": {"type": "point", "shape": "M-3.045,-1H3.045V1H-3.045Z", "size": 484, "filled": true, "fill": "#8c1c9e", "strokeWidth": 0, "opacity": 1},
          "encoding": {
            "x": {"datum": {"year":2021,"month":6,"date":1,"hours":12,"minutes":57,"utc":true}, "type": "temporal", "title": null},
            "y": {"field": "at", "type": "quantitative", "title": null}
          }
        },
        {
          "data": {"name": "rsitag"},
          "mark": {"type": "point", "shape": "M-1.68,-1H1.68V1H-1.68Z", "size": 484, "filled": true, "fill": "#8c1c9e", "strokeWidth": 0, "opacity": 1},
          "encoding": {
            "x": {"datum": {"year":2021,"month":5,"date":27,"hours":22,"minutes":34,"utc":true}, "type": "temporal", "title": null},
            "y": {"field": "at", "type": "quantitative", "title": null}
          }
        },
        {
          "data": {"name": "rsitag"},
          "mark": {"type": "text", "font": "Liberation Sans", "fontSize": 16, "color": "#ffffff", "align": "center", "baseline": "middle", "dx": 3},
          "encoding": {
            "x": {"datum": {"year":2021,"month":6,"date":1,"hours":12,"minutes":57,"utc":true}, "type": "temporal", "title": null},
            "y": {"field": "at", "type": "quantitative", "title": null},
            "text": {"field": "label"}
          }
        },
        {
          "data": {"name": "rsitag"},
          "mark": {"type": "text", "font": "Liberation Sans", "fontSize": 16, "color": "#ffffff", "align": "center", "baseline": "middle", "text": "RSI"},
          "encoding": {
            "x": {"datum": {"year":2021,"month":5,"date":27,"hours":22,"minutes":34,"utc":true}, "type": "temporal", "title": null},
            "y": {"field": "at", "type": "quantitative", "title": null}
          }
        },
        {
          "data": {"name": "rsilabel"},
          "mark": {"type": "text", "font": "Liberation Sans", "fontSize": 17.5, "color": "#5a5a5a", "align": "left", "baseline": "middle"},
          "encoding": {
            "x": {"field": "t", "type": "temporal", "title": null},
            "y": {"field": "v", "type": "quantitative", "title": null},
            "text": {"field": "txt"}
          }
        },
        {
          "data": {"name": "brand"},
          "mark": {"type": "point", "shape": "M-1.55,1.15C-2.0,1.15 -2.0,0.35 -1.45,0.3C-1.4,-0.25 -0.85,-0.45 -0.45,-0.2C-0.2,-1.15 1.1,-1.2 1.3,-0.15C1.95,-0.1 1.95,1.15 1.4,1.15Z", "size": 400, "filled": true, "fill": "#2196f3", "strokeWidth": 0, "opacity": 1},
          "encoding": {
            "x": {"field": "t", "type": "temporal", "title": null},
            "y": {"field": "v", "type": "quantitative", "title": null}
          }
        },
        {
          "data": {"name": "brand"},
          "mark": {"type": "point", "shape": "M-1.35,0.75L-0.5,0.0L0.45,0.7L1.35,-0.05", "size": 400, "filled": false, "stroke": "#ffffff", "strokeWidth": 2, "opacity": 1},
          "encoding": {
            "x": {"field": "t", "type": "temporal", "title": null},
            "y": {"field": "v", "type": "quantitative", "title": null}
          }
        }
      ]
    }
  ]
}
